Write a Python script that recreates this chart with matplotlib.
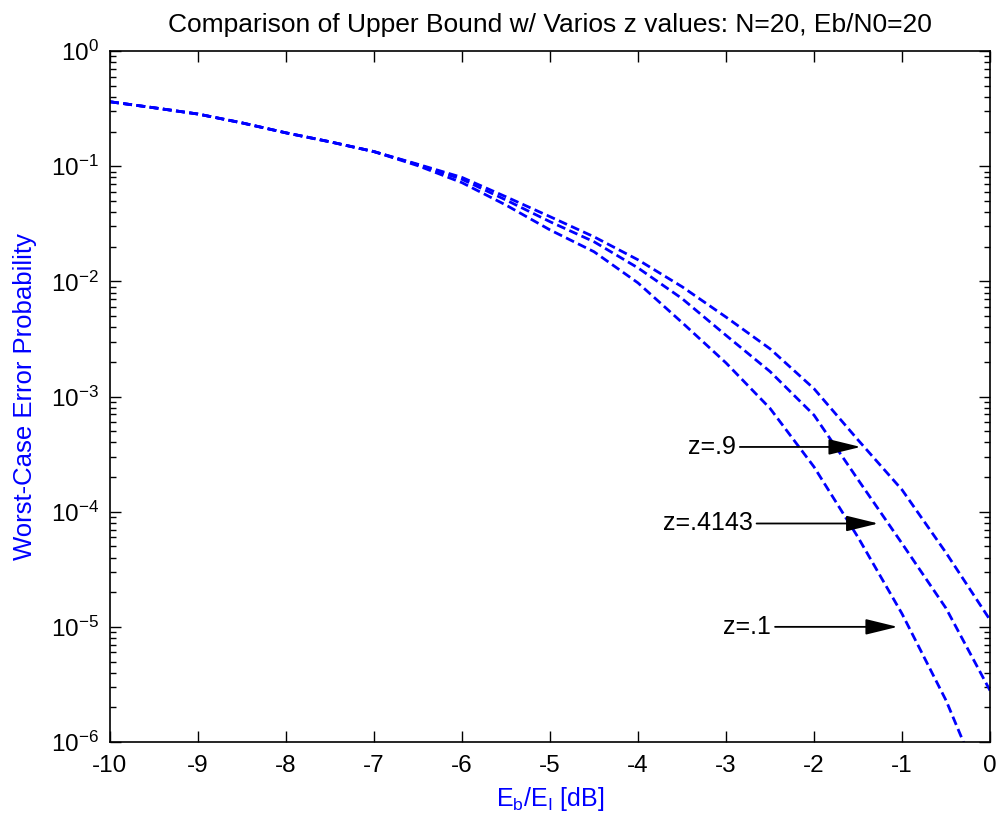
import matplotlib
matplotlib.use("Agg")
import matplotlib.pyplot as plt
import numpy as np

plt.rcParams['font.family'] = ['Liberation Sans', 'DejaVu Sans']
plt.rcParams['mathtext.fontset'] = 'custom'
plt.rcParams['mathtext.rm'] = 'Liberation Sans'
plt.rcParams['mathtext.it'] = 'Liberation Sans'
plt.rcParams['mathtext.default'] = 'regular'
plt.rcParams['axes.unicode_minus'] = False

# Data
eb_ei_db = [-10, -9.5, -9, -8.5, -8, -7.5, -7, -6.5, -6, -5.5, -5, -4.5, -4,
            -3.5, -3, -2.5, -2, -1.5, -1, -0.5, 0]
pe_z09 = [0.363, 0.322, 0.284, 0.238, 0.195, 0.163, 0.134, 0.104, 0.080, 0.0543,
          0.0365, 0.0244, 0.0154, 9.0e-3, 4.9e-3, 2.6e-3, 1.17e-3, 4.2e-4, 1.55e-4,
          4.4e-5, 1.15e-5]
pe_z04143 = [0.363, 0.322, 0.284, 0.238, 0.195, 0.163, 0.134, 0.103, 0.077, 0.0509,
             0.033, 0.0221, 0.0131, 7.1e-3, 3.4e-3, 1.65e-3, 6.9e-4, 1.9e-4, 5.3e-5,
             1.45e-5, 2.8e-6]
pe_z01 = [0.363, 0.322, 0.284, 0.238, 0.195, 0.163, 0.134, 0.101, 0.072, 0.046,
          0.028, 0.0181, 0.0097, 4.4e-3, 1.96e-3, 7.9e-4, 2.45e-4, 6.0e-5, 1.3e-5,
          2.3e-6, 2.8e-7]

labels = ['z=.9', 'z=.4143', 'z=.1']
label_text_x = [-2.89, -2.70, -2.49]
label_tip_x = [-1.47, -1.27, -1.05]
label_y = [3.65e-4, 7.9e-5, 1.0e-5]

fig = plt.figure(figsize=(9.98, 8.24), dpi=100)
ax = fig.add_axes([0.1102, 0.0995, 0.8818, 0.8385])

for ys in (pe_z09, pe_z04143, pe_z01):
    ax.plot(eb_ei_db, ys, color='#0000ff', lw=2.0, linestyle=(0, (3.2, 1.6)))

ax.set_yscale('log')
ax.set_xlim(-10, 0)
ax.set_ylim(1e-6, 1)
ax.set_xticks(np.arange(-10, 1, 1))

ax.tick_params(which='both', direction='in', top=True, right=True, labelsize=17.5,
               color='black', width=1.0)
ax.tick_params(which='major', length=8)
ax.tick_params(axis='x', which='major', pad=9)
ax.tick_params(axis='y', which='major', pad=8)
ax.tick_params(which='minor', length=4.5)
for s in ax.spines.values():
    s.set_linewidth(1.2)

ax.set_title('Comparison of Upper Bound w/ Varios z values: N=20, Eb/N0=20',
             fontsize=19, pad=14)
ax.set_xlabel(r'E$_b$/E$_I$ [dB]', color='#0000ff', fontsize=18, labelpad=6)
ax.set_ylabel('Worst-Case Error Probability', color='#0000ff', fontsize=18.5,
              labelpad=10)

for lab, tx, hx, yy in zip(labels, label_text_x, label_tip_x, label_y):
    ax.annotate(lab, xy=(hx, yy), xytext=(tx, yy), fontsize=18,
                ha='right', va='center',
                arrowprops=dict(arrowstyle='-|>,head_length=0.9,head_width=0.22',
                                color='black', lw=1.3,
                                mutation_scale=22, shrinkA=1, shrinkB=0))

fig.savefig('out.png', dpi=100)
